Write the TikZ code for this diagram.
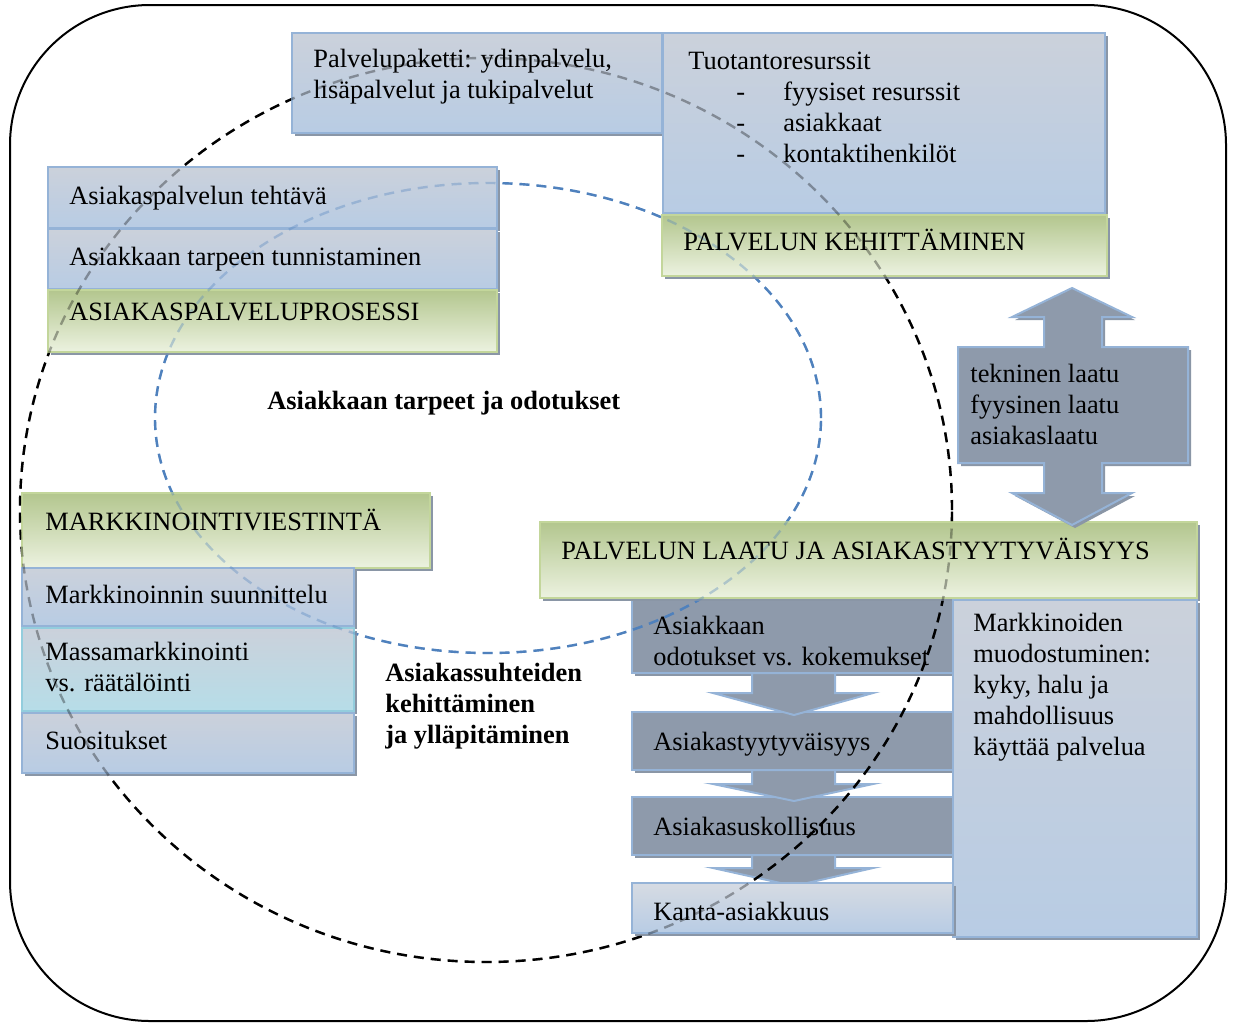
\documentclass[tikz,border=0pt]{standalone}
\usepackage{fontspec}
\setmainfont{Liberation Serif}
\usetikzlibrary{shadows,fit}
\definecolor{bluetop}{HTML}{CBD1DB}
\definecolor{bluebot}{HTML}{B8CCE4}
\definecolor{lighttop}{HTML}{D6DBE3}
\definecolor{blueedge}{HTML}{95B3D7}
\definecolor{greentop}{HTML}{B3C68E}
\definecolor{greenbot}{HTML}{ECF2E0}
\definecolor{greenedge}{HTML}{C3D69B}
\definecolor{tealbot}{HTML}{B6DDE8}
\definecolor{tealedge}{HTML}{93CDDD}
\definecolor{darkgr}{HTML}{8E9AAB}
\definecolor{shadowc}{HTML}{8A96A6}
\definecolor{dashblue}{HTML}{4F81BD}
\begin{document}
\begin{tikzpicture}[x=0.5pt,y=-0.5pt,
 basebox/.style={inner sep=0pt, line width=1pt, general shadow={fill=shadowc, shadow xshift=1.5pt, shadow yshift=-1.5pt}},
 bluebox/.style={basebox, draw=blueedge, top color=bluetop, bottom color=bluebot},
 lightbox/.style={basebox, draw=blueedge, top color=lighttop, bottom color=bluebot},
 greenbox/.style={basebox, draw=greenedge, top color=greentop, bottom color=greenbot},
 tealbox/.style={basebox, draw=tealedge, top color=bluetop, bottom color=tealbot},
 darkbox/.style={basebox, draw=blueedge, fill=darkgr},
 darkarrow/.style={line width=1pt, draw=blueedge, fill=darkgr, line join=miter},
 txt/.style={anchor=west, inner sep=0pt, font=\fontsize{13.2}{15.5}\selectfont, align=left},
 btxt/.style={anchor=west, inner sep=0pt, font=\fontsize{13.2}{15.5}\selectfont\bfseries, align=left},
 one/.style={text height=10.5pt, text depth=2pt},
 blackdash/.style={line width=1.2pt, dash pattern=on 5pt off 3.5pt},
 bluedash/.style={line width=1.2pt, dash pattern=on 5pt off 3.5pt, draw=dashblue},
]
\useasboundingbox (0,0) rectangle (1235,1023);
% outer frame
\draw[line width=1pt, rounded corners=70pt] (10,5) rectangle (1226,1021);

% dark column (below the dashed curves)
\node[darkbox, fit={(632,600)(953,673)}] (d1) {};
\node[darkbox, fit={(632,712)(953,770)}] (d2) {};
\node[darkbox, fit={(632,797)(953,855)}] (d3) {};
\draw[darkarrow] (752,673) -- (835,673) -- (835,693) -- (873,693) -- (794,715) -- (713,693) -- (752,693) -- cycle;
\draw[darkarrow] (752,770) -- (835,770) -- (835,784) -- (873,784) -- (794,801) -- (713,784) -- (752,784) -- cycle;
\draw[darkarrow] (752,855) -- (835,855) -- (835,868) -- (873,868) -- (794,886) -- (713,868) -- (752,868) -- cycle;

% dashed curves
\draw[blackdash] (486,510) ellipse [x radius=233pt, y radius=226pt];
\draw[bluedash] (488,418) ellipse [x radius=166.5pt, y radius=117.5pt];

% light boxes
\node[bluebox, fit={(292,33)(662,133)}] (pp) {};
\node[bluebox, fit={(663,33)(1105,213)}] (tr) {};
\node[greenbox, fit={(662,215)(1107,276)}] (pk) {};
\node[bluebox, fit={(48,167)(497,228)}] (at) {};
\node[bluebox, fit={(48,229)(497,289)}] (tt) {};
\node[greenbox, fit={(48,290)(497,352)}] (ap) {};
\node[greenbox, fit={(22,493)(430,568)}] (mv) {};
\node[bluebox, fit={(22,568)(354,626)}] (ms) {};
\node[tealbox, fit={(22,628)(354,711)}] (mm) {};
\node[bluebox, fit={(22,713)(354,773)}] (su) {};
\node[greenbox, fit={(540,522)(1197,598)}] (pl) {};
\node[bluebox, fit={(953,600)(1197,937)}] (mk) {};
\node[lightbox, fit={(632,883)(953,933)}] (ka) {};
% double arrow
\draw[darkarrow, general shadow={fill=shadowc, shadow xshift=1.5pt, shadow yshift=-1.5pt}]
  (1072,288) -- (1132,317) -- (1102,317) -- (1102,347) -- (1188,347) -- (1188,463)
  -- (1102,463) -- (1102,493) -- (1132,493) -- (1072,525) -- (1012,493) -- (1044,493)
  -- (1044,463) -- (958,463) -- (958,347) -- (1044,347) -- (1044,317) -- (1012,317) -- cycle;

% faint dashed curves over the light boxes
\draw[blackdash, opacity=0.33] (486,510) ellipse [x radius=233pt, y radius=226pt];
\draw[bluedash, opacity=0.35] (488,418) ellipse [x radius=166.5pt, y radius=117.5pt];

% texts
\node[txt] (t1) at (313,77) {Palvelupaketti: ydinpalvelu,\\lisäpalvelut ja tukipalvelut};
\node[txt, one] (t2) at (688,61) {Tuotantoresurssit};
\node[txt, one] (t3) at (783,92) {fyysiset resurssit};
\node[txt, one] (t4) at (783,123) {asiakkaat};
\node[txt, one] (t5) at (783,154) {kontaktihenkilöt};
\node[txt, anchor=base west] (b1) at (t3.base -| 736,0) {-};
\node[txt, anchor=base west] (b2) at (t4.base -| 736,0) {-};
\node[txt, anchor=base west] (b3) at (t5.base -| 736,0) {-};
\node[txt, one] (t6) at (683,242) {PALVELUN KEHITTÄMINEN};
\node[txt, one] (t7) at (69,196) {Asiakaspalvelun tehtävä};
\node[txt, one] (t8) at (69,257) {Asiakkaan tarpeen tunnistaminen};
\node[txt, one] (t9) at (69,312) {ASIAKASPALVELUPROSESSI};
\node[btxt, one] (t10) at (267,401) {Asiakkaan tarpeet ja odotukset};
\node[txt] (t11) at (970,404) {tekninen laatu\\fyysinen laatu\\asiakaslaatu};
\node[txt, one] (t12) at (561,551) {PALVELUN LAATU JA ASIAKASTYYTYVÄISYYS};
\node[txt] (t13) at (973,687) {Markkinoiden\\muodostuminen:\\kyky, halu ja\\mahdollisuus\\käyttää palvelua};
\node[txt] (t14) at (653,641) {Asiakkaan\\odotukset vs. kokemukset};
\node[txt, one] (t15) at (653,742) {Asiakastyytyväisyys};
\node[txt, one] (t16) at (653,827) {Asiakasuskollisuus};
\node[txt, one] (t17) at (653,912) {Kanta-asiakkuus};
\node[txt, one] (t18) at (45,522) {MARKKINOINTIVIESTINTÄ};
\node[txt, one] (t19) at (45,595) {Markkinoinnin suunnittelu};
\node[txt] (t20) at (45,667) {Massamarkkinointi\\vs. räätälöinti};
\node[txt, one] (t21) at (45,741) {Suositukset};
\node[btxt] (t22) at (385,706) {Asiakassuhteiden\\kehittäminen\\ja ylläpitäminen};
\end{tikzpicture}
\end{document}
